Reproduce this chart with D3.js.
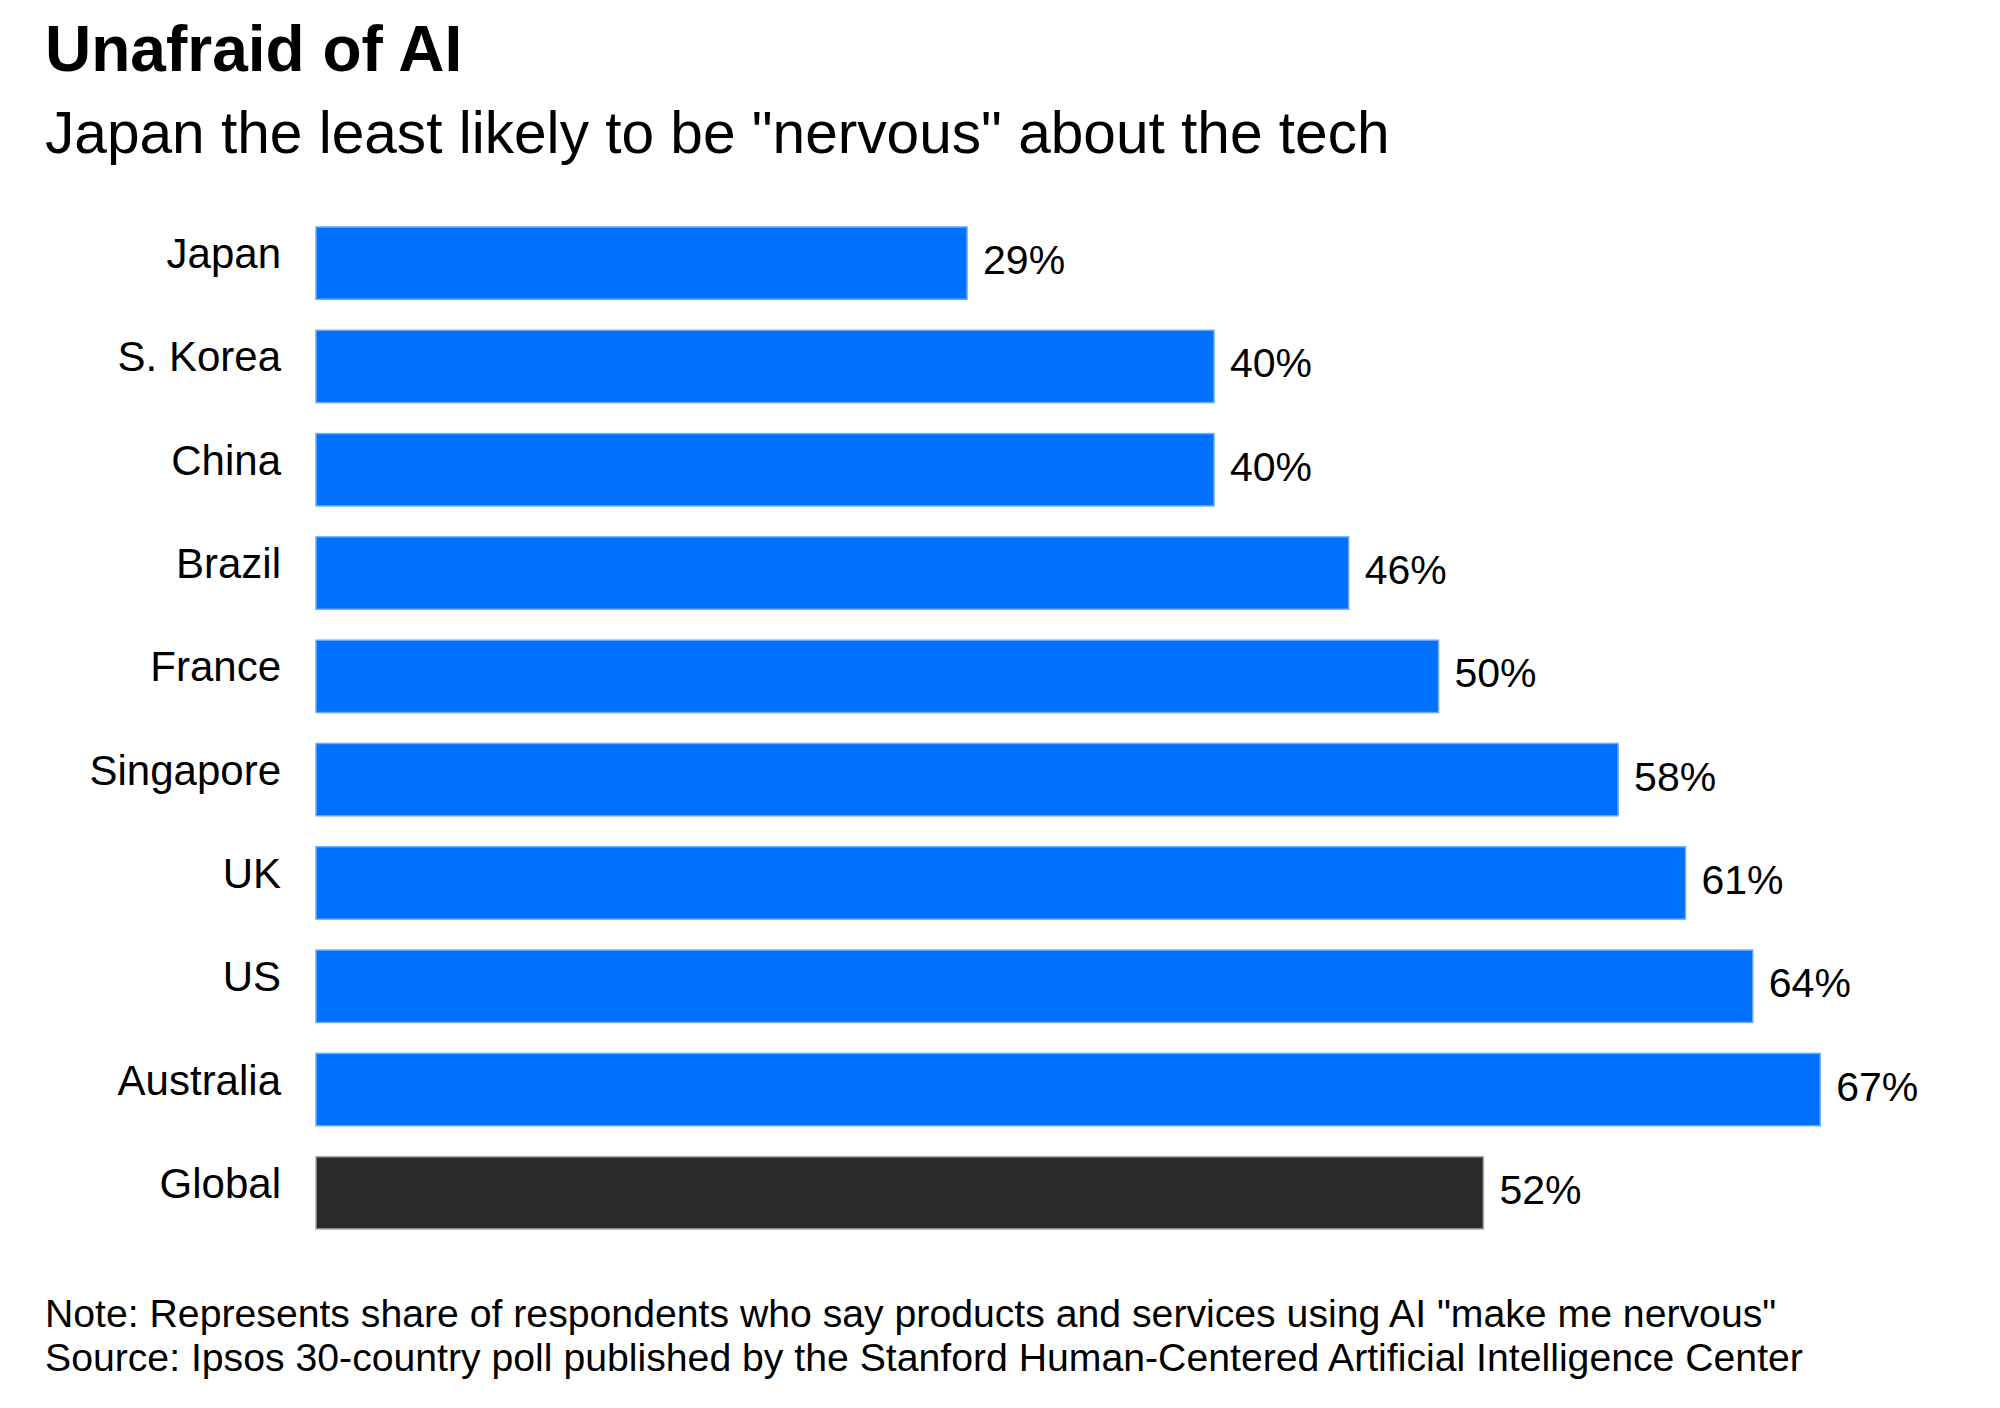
<!DOCTYPE html>
<html lang="en">
<head>
  <meta charset="UTF-8" />
  <title>Unafraid of AI</title>
  <script src="https://d3js.org/d3.v7.min.js"></script>
  <style>
    body { margin: 0; background: #fff; }
    svg text { font-family: "Liberation Sans", Arial, sans-serif; fill: #000; }
  </style>
</head>
<body>
  <div id="chart"></div>
  <script>
    // data
    var countries = ['Japan', 'S. Korea', 'China', 'Brazil', 'France', 'Singapore', 'UK', 'US', 'Australia', 'Global'];
    var shares = [29, 40, 40, 46, 50, 58, 61, 64, 67, 52];

    var title = 'Unafraid of AI';
    var subtitle = 'Japan the least likely to be "nervous" about the tech';
    var notes = [
      'Note: Represents share of respondents who say products and services using AI "make me nervous"',
      'Source: Ipsos 30-country poll published by the Stanford Human-Centered Artificial Intelligence Center'
    ];

    var width = 2000, height = 1408;
    var rows = countries.map((c, i) => ({ name: c, value: shares[i] }));

    var svg = d3.select('#chart')
      .append('svg')
      .attr('width', width)
      .attr('height', height);

    svg.append('text')
      .attr('x', 45)
      .attr('y', 71)
      .attr('font-size', 64)
      .attr('font-weight', 'bold')
      .text(title);

    svg.append('text')
      .attr('x', 45)
      .attr('y', 153)
      .attr('font-size', 58.6)
      .text(subtitle);

    var xScale = d3.scaleLinear()
      .domain([0, 70])
      .range([316, 316 + 70 * 22.45]);

    var yScale = d3.scaleBand()
      .domain(countries)
      .range([211.5, 1244.5])
      .paddingInner(0.3)
      .paddingOuter(0.15);

    // country labels
    var yAxis = svg.append('g')
      .attr('transform', 'translate(' + xScale(0) + ',0)')
      .call(d3.axisLeft(yScale).tickSize(0).tickPadding(35));
    yAxis.select('.domain').remove();
    yAxis.selectAll('text')
      .attr('font-size', 42)
      .attr('dy', '0.12em')
      .style('font-family', '"Liberation Sans", Arial, sans-serif')
      .attr('fill', '#000');

    svg.selectAll('rect.bar')
      .data(rows)
      .enter()
      .append('rect')
      .attr('class', 'bar')
      .attr('x', xScale(0))
      .attr('y', d => yScale(d.name))
      .attr('width', d => xScale(d.value) - xScale(0))
      .attr('height', yScale.bandwidth())
      .attr('fill', d => d.name === 'Global' ? '#2a2a2a' : '#0070ff')
      .attr('stroke', d => d.name === 'Global' ? '#a8a8a8' : '#6aaaff')
      .attr('stroke-width', 1.5);

    svg.selectAll('text.value')
      .data(rows)
      .enter()
      .append('text')
      .attr('class', 'value')
      .attr('x', d => xScale(d.value) + 16)
      .attr('y', d => yScale(d.name) + yScale.bandwidth() / 2 + 11)
      .attr('font-size', 41)
      .text(d => d.value + '%');

    svg.selectAll('text.note')
      .data(notes)
      .enter()
      .append('text')
      .attr('class', 'note')
      .attr('x', 45)
      .attr('y', (d, i) => 1327 + i * 44)
      .attr('font-size', 39.2)
      .text(d => d);
  </script>
</body>
</html>
